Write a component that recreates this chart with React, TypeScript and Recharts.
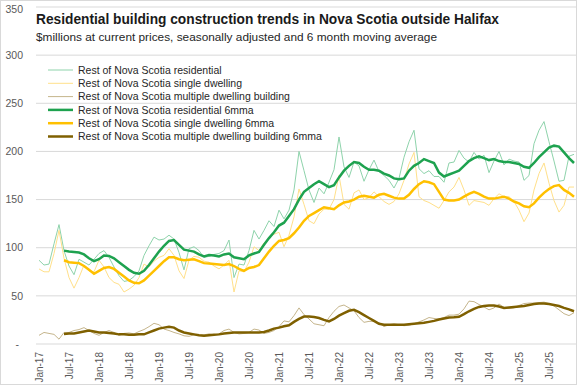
import { CartesianGrid, Line, LineChart, XAxis, YAxis } from "recharts";

const MONTHS = ["Jan", "Feb", "Mar", "Apr", "May", "Jun", "Jul", "Aug", "Sep", "Oct", "Nov", "Dec"];
const YEARS = ["17", "18", "19", "20", "21", "22", "23", "24", "25"];
const Y_TICKS = [0, 50, 100, 150, 200, 250, 300, 350];

const TITLE = "Residential building construction trends in Nova Scotia outside Halifax";
const SUBTITLE = "$millions at current prices, seasonally adjusted and 6 month moving average";

// monthly, Jan-17 .. Dec-25
const residential = [
  87, 82, 83, 104, 124, 97, 81, 72, 88, 85, 82, 88,
  94, 97, 90, 80, 71, 65, 66, 70, 76, 92, 102, 111,
  108, 109, 113, 109, 95, 77, 99, 101, 97, 90, 91, 93,
  94, 97, 108, 69, 83, 82, 97, 118, 109, 118, 128, 122,
  139, 130, 139, 160, 200, 180, 160, 147, 162, 156, 168, 181,
  215, 184, 173, 189, 185, 169, 181, 191, 179, 175, 170, 162,
  172, 194, 210, 222, 182, 177, 180, 174, 174, 168, 188, 189,
  201, 193, 189, 199, 192, 196, 178, 190, 200, 186, 192, 190,
  189, 170, 175, 208, 222, 231, 210, 190, 169, 170, 195, 197,
];
const single = [
  78, 75, 75, 94, 118, 89, 69, 58, 69, 82, 76, 75,
  87, 80, 69, 64, 62, 54, 57, 61, 69, 83, 80, 86,
  90, 92, 99, 92, 76, 68, 87, 91, 90, 86, 85, 81,
  78, 82, 87, 54, 76, 75, 85, 101, 97, 105, 110, 114,
  116, 101, 113, 132, 161, 145, 128, 125, 135, 140, 140, 150,
  175, 145, 140, 157, 160, 150, 152, 158, 153, 148, 145, 148,
  156, 170, 187, 199, 153, 149, 147, 144, 141, 149, 158, 163,
  173, 160, 144, 149, 148, 147, 144, 151, 156, 153, 153, 148,
  139, 127, 136, 160, 177, 188, 167, 149, 137, 144, 163, 163,
];
const multiple = [
  9, 12, 11, 10, 5, 12, 12, 14, 15, 17, 14, 11,
  9, 12, 14, 12, 9, 11, 11.5, 10.5, 13, 15, 18, 21.5,
  20, 15.5, 14, 12, 10.5, 8.5, 8, 9.5, 9, 9.5, 10.5, 9.5,
  10.5, 14, 15.5, 12, 10.5, 11, 12, 15.5, 14.5, 11, 12, 14,
  18, 24, 23, 29.5, 37.5, 30.5, 26, 21, 20, 19, 27.5, 34,
  39, 40.5, 37.5, 34.5, 27.5, 22.5, 23.5, 23.5, 22, 18, 20, 21,
  20, 19, 19.5, 21, 23, 25, 27.5, 26.5, 26, 27.5, 30, 30,
  31, 36.5, 44.5, 44, 41, 38.5, 35.5, 37.5, 41.5, 38, 37, 37.5,
  40, 42, 42.5, 42.5, 43, 43.5, 42, 39.5, 35.5, 31.5, 29.5, 32.5,
];

// 6 month moving averages, Jun-17 .. Dec-25
const MA_START = 5;
const residentialMa = [
  97, 96, 95.5, 95, 93, 89, 86,
  88, 92, 91.5, 89, 85, 81, 77, 74, 73, 76, 82, 89,
  96, 102, 107, 108, 103, 98, 97, 96, 93, 91, 92.5, 92,
  91, 93, 94, 90, 89, 88, 92, 94, 95.5, 103, 110, 116,
  123, 126, 133, 140, 150, 158, 162, 166, 169, 166, 163, 165,
  173, 180, 185, 189, 188, 184, 181, 181, 180, 177, 175, 172,
  171, 172, 180, 185, 188, 192, 190, 188, 178, 174, 176, 178,
  180, 185, 190, 193, 195, 193, 191, 192, 190, 189, 189, 188,
  187, 184, 183, 188, 194, 199, 204, 206, 205, 199, 193, 188,
];
const singleMa = [
  87, 85, 84.5, 84, 81, 77, 73,
  76, 79, 80, 78, 74, 70, 66, 63.5, 63, 66, 71, 76,
  81, 86, 90, 90, 88, 87, 87.5, 88, 86, 84, 83.5, 83,
  82.5, 82, 83, 81, 78, 76, 79, 80, 82, 89, 96, 102,
  107, 108, 110, 115, 121, 128, 133, 136, 139, 142, 141, 140,
  144, 147, 148, 150, 153, 154, 153, 152, 155, 156, 154, 152,
  151, 151, 155, 161, 166, 169, 168, 166, 158, 150, 149, 149,
  150, 153, 156, 158, 156, 153, 151, 151, 152, 153, 151, 148,
  146, 143, 142, 146, 152, 157, 161, 164, 165, 160, 157, 153,
];
const multipleMa = [
  10.5, 10.8, 11, 12, 13, 14, 13,
  12, 12, 11.5, 11, 10, 10, 9.5, 9.5, 10, 10, 12, 14,
  16, 17, 18, 17, 14, 12, 11, 10, 9, 8.5, 9, 9.5,
  10, 11, 11.5, 12, 12, 12, 12, 12, 12, 12.5, 14, 16,
  17, 18.5, 19.5, 23, 26, 28.5, 28.5, 28, 27, 25, 23.5, 26,
  29.5, 32, 34.5, 35.5, 33, 30, 27, 24, 21, 20, 20, 20,
  20, 20, 20.5, 21, 21.5, 22, 23, 24, 25.5, 26.5, 27.5, 27.7,
  28.3, 31, 34, 36.5, 38.5, 39.5, 40, 40, 39, 37.5, 38, 38.5,
  39, 39.5, 40.5, 41.5, 42, 42, 41.5, 40.5, 39.5, 37.5, 36, 34,
];

const months = YEARS.flatMap((y) => MONTHS.map((m) => `${m}-${y}`));
const ma = (arr: number[], i: number) => (i >= MA_START ? arr[i - MA_START] : null);

const data = months.map((month, i) => ({
  month,
  residential: residential[i],
  single: single[i],
  multiple: multiple[i],
  residentialMa: ma(residentialMa, i),
  singleMa: ma(singleMa, i),
  multipleMa: ma(multipleMa, i),
}));

const SERIES = [
  { key: "residential", name: "Rest of Nova Scotia residential", color: "#8ed3ab", width: 1 },
  { key: "single", name: "Rest of Nova Scotia single dwelling", color: "#ffe08a", width: 1 },
  { key: "multiple", name: "Rest of Nova Scotia multiple dwelling building", color: "#c5b58c", width: 1 },
  { key: "residentialMa", name: "Rest of Nova Scotia residential 6mma", color: "#1ea24f", width: 2.5 },
  { key: "singleMa", name: "Rest of Nova Scotia single dwelling 6mma", color: "#ffc000", width: 2.5 },
  { key: "multipleMa", name: "Rest of Nova Scotia multiple dwelling building 6mma", color: "#7f6000", width: 2.5 },
];

const FONT = "'Liberation Sans', Arial, sans-serif";
const NARROW = "'Liberation Sans Narrow', 'Arial Narrow', 'Liberation Sans', sans-serif";
const W = 577;
const H = 385;

function YTick({ x, y, payload }: any) {
  const zero = payload.value === 0;
  return (
    <text x={zero ? x - 4 : x} y={y} dy="0.35em" textAnchor="end" fontSize={10.5} fill="#595959" fontFamily={FONT}>
      {zero ? "-" : payload.value}
    </text>
  );
}

function XTick({ x, y, payload }: any) {
  return (
    <text
      transform={`translate(${x},${y}) rotate(-90)`}
      dy="0.35em"
      textAnchor="end"
      fontSize={10}
      fill="#595959"
      fontFamily={FONT}
    >
      {payload.value}
    </text>
  );
}

export default function App() {
  return (
    <div style={{ position: "relative", width: W, height: H, background: "#fff" }}>
      <style>{"body{margin:0}"}</style>
      <LineChart width={W} height={H} data={data} margin={{ top: 7, right: 0, bottom: 0, left: 0 }}>
        <CartesianGrid vertical={false} stroke="#d9d9d9" />
        <XAxis
          dataKey="month"
          interval={5}
          tick={<XTick />}
          tickLine={false}
          axisLine={false}
          height={41}
          padding={{ left: 3, right: 3 }}
        />
        <YAxis
          domain={[0, 350]}
          ticks={Y_TICKS}
          width={36}
          tickLine={false}
          axisLine={false}
          tickMargin={7}
          tick={<YTick />}
        />
        {SERIES.map((s) => (
          <Line
            key={s.key}
            type="linear"
            dataKey={s.key}
            name={s.name}
            stroke={s.color}
            strokeWidth={s.width}
            dot={false}
            isAnimationActive={false}
          />
        ))}
      </LineChart>
      <svg width={W} height={H} style={{ position: "absolute", left: 0, top: 0, pointerEvents: "none" }}>
        <rect x={0.5} y={0.5} width={W - 1} height={H - 1} fill="none" stroke="#d9d9d9" />
        <text x={36} y={23.5} fontSize={14} fontWeight="bold" fill="#1a1a1a" fontFamily={NARROW} textLength={463} lengthAdjust="spacingAndGlyphs">
          {TITLE}
        </text>
        <text x={36} y={40.5} fontSize={10.8} fill="#262626" fontFamily={FONT} textLength={401} lengthAdjust="spacingAndGlyphs">
          {SUBTITLE}
        </text>
        {SERIES.map((s, i) => {
          const y = 70 + i * 13.3;
          return (
            <g key={s.key}>
              <line x1={48} x2={73} y1={y} y2={y} stroke={s.color} strokeWidth={s.width} />
              <text x={78} y={y} dy="0.35em" fontSize={10.5} fill="#262626" fontFamily={FONT}>
                {s.name}
              </text>
            </g>
          );
        })}
      </svg>
    </div>
  );
}
